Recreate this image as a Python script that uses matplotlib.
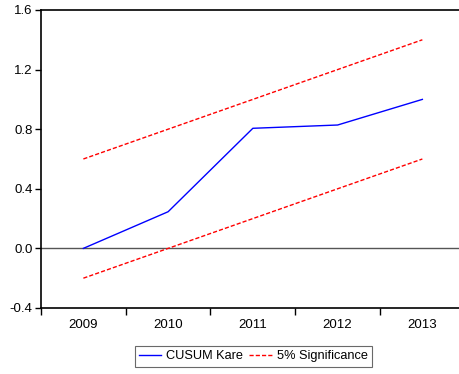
import matplotlib
matplotlib.use("Agg")
import matplotlib.pyplot as plt

plt.rcParams['font.family'] = ['Liberation Sans', 'DejaVu Sans']

# CUSUM of squares test with 5% significance bounds
years = ["2009", "2010", "2011", "2012", "2013"]
cusum_sq = [0.0, 0.246, 0.806, 0.828, 1.0]
upper_bound = [0.6, 0.8, 1.0, 1.2, 1.4]
lower_bound = [-0.2, 0.0, 0.2, 0.4, 0.6]
y_ticks = [-0.4, 0.0, 0.4, 0.8, 1.2, 1.6]

fig = plt.figure(figsize=(4.59, 3.74), dpi=100)
# the plot frame runs a little past the right edge of the figure
ax = fig.add_axes([0.0893, 0.1765, 0.9232, 0.7968])

x = list(range(len(years)))
ax.axhline(0.0, color="#555555", lw=1.0, zorder=1)
ax.plot(x, cusum_sq, color="blue", lw=1.0, label="CUSUM Kare", zorder=3)
ax.plot(x, upper_bound, color="red", lw=1.0, ls=(0, (3, 1.5)),
        label="5% Significance", zorder=2)
ax.plot(x, lower_bound, color="red", lw=1.0, ls=(0, (3, 1.5)), zorder=2)

ax.set_xlim(-0.5, len(years) - 0.5)
ax.set_ylim(-0.4, 1.6)
ax.set_yticks(y_ticks)
ax.set_yticklabels([f"{v:.1f}" for v in y_ticks])

# category labels centred, tick marks on the boundaries between years
ax.set_xticks([i - 0.5 for i in range(len(years))])
ax.set_xticklabels([])
ax.set_xticks(x, minor=True)
ax.set_xticklabels(years, minor=True)
ax.tick_params(axis="x", which="minor", length=0, pad=8, labelsize=9.5)
ax.tick_params(axis="x", which="major", length=5, width=1.0, direction="out")
ax.tick_params(axis="y", length=4, width=1.0, direction="out", pad=2, labelsize=9.5)

for side in ["left", "top", "bottom"]:
    ax.spines[side].set_linewidth(1.2)
    ax.spines[side].set_color("black")
ax.spines["right"].set_visible(False)

leg = fig.legend(loc="center", bbox_to_anchor=(0.552, 0.048), ncol=2,
                 frameon=True, fancybox=False, fontsize=9.2,
                 handlelength=1.75, columnspacing=0.45, handletextpad=0.4,
                 borderpad=0.35)
leg.get_frame().set_edgecolor("#444444")
leg.get_frame().set_linewidth(0.8)

fig.savefig("out.png", dpi=100)
